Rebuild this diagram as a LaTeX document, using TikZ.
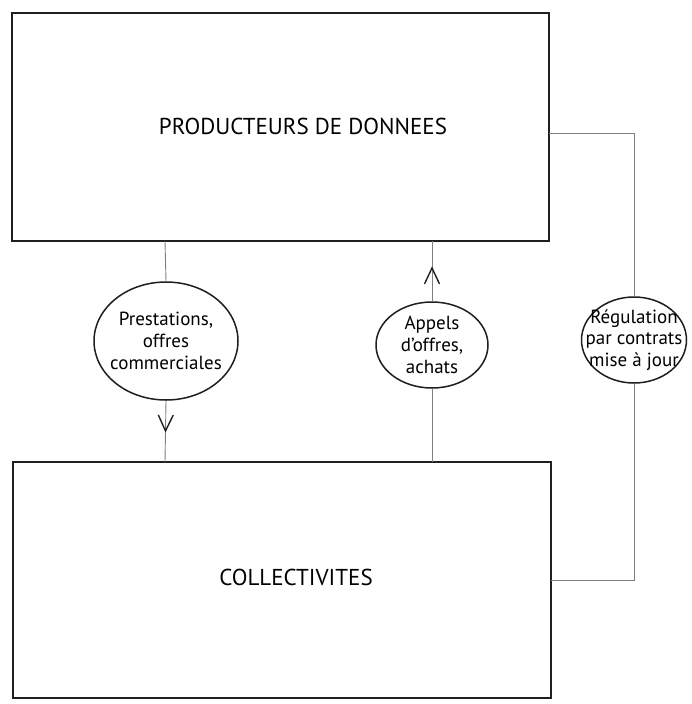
\documentclass[tikz,border=0pt]{standalone}
\usepackage{fontspec}
\setmainfont{PT Sans}
\usetikzlibrary{shapes.geometric,arrows.meta,decorations.markings}
\begin{document}
\begin{tikzpicture}[x=1pt,y=-1pt,
  box/.style={draw=black!88,line width=2.4pt,rectangle,inner sep=0pt},
  bubble/.style={draw=black!88,line width=1.5pt,ellipse,inner sep=0pt},
  btxt/.style={align=center,font=\fontsize{19}{21.8}\selectfont,inner sep=0pt},
  ttl/.style={font=\fontsize{23}{27}\selectfont,inner sep=0pt},
  link/.style={draw=black!50,line width=0.9pt},
  chev/.style={postaction={decorate,decoration={markings,mark=at position #1 with {\arrow[black!88,line width=1.4pt]{Straight Barb[length=16pt,width=15pt]}}}}}
]
\useasboundingbox (0,0) rectangle (692,704);
\fill[white] (0,0) rectangle (692,704);
% boxes
\node[box,minimum width=537pt,minimum height=228pt] (prod) at (280.5,127) {};
\node[box,minimum width=538pt,minimum height=236pt] (coll) at (282,580) {};
\node[ttl] (prodt) at (303,126) {PRODUCTEURS DE DONNEES};
\node[ttl] (collt) at (296,577) {COLLECTIVITES};
% ellipses
\node[bubble,minimum width=144pt,minimum height=118pt,label={[btxt]center:{Prestations,\\offres\\commerciales}}] (e1) at (166,341) {};
\node[bubble,minimum width=112pt,minimum height=86pt,label={[btxt]center:{Appels\\d’offres,\\achats}}] (e2) at (432,345) {};
\node[bubble,minimum width=105pt,minimum height=86pt,label={[btxt]center:{Régulation\\par contrats\\mise à jour}}] (e3) at (634,340) {};
% connectors
\coordinate (p1) at (165,241);
\coordinate (c1) at (165,462);
\coordinate (p2) at (432,241);
\coordinate (c2) at (432,462);
\coordinate (pr) at (549,133);
\coordinate (cr) at (551,580);
\draw[link] (p1) -- (e1.north);
\draw[link,chev=0.52] (e1.south) -- (c1);
\draw[link,chev=0.58] (e2.north) -- (p2);
\draw[link] (c2) -- (e2.south);
\draw[link] (pr) -| (e3.north);
\draw[link] (e3.south) |- (cr);
\end{tikzpicture}
\end{document}
